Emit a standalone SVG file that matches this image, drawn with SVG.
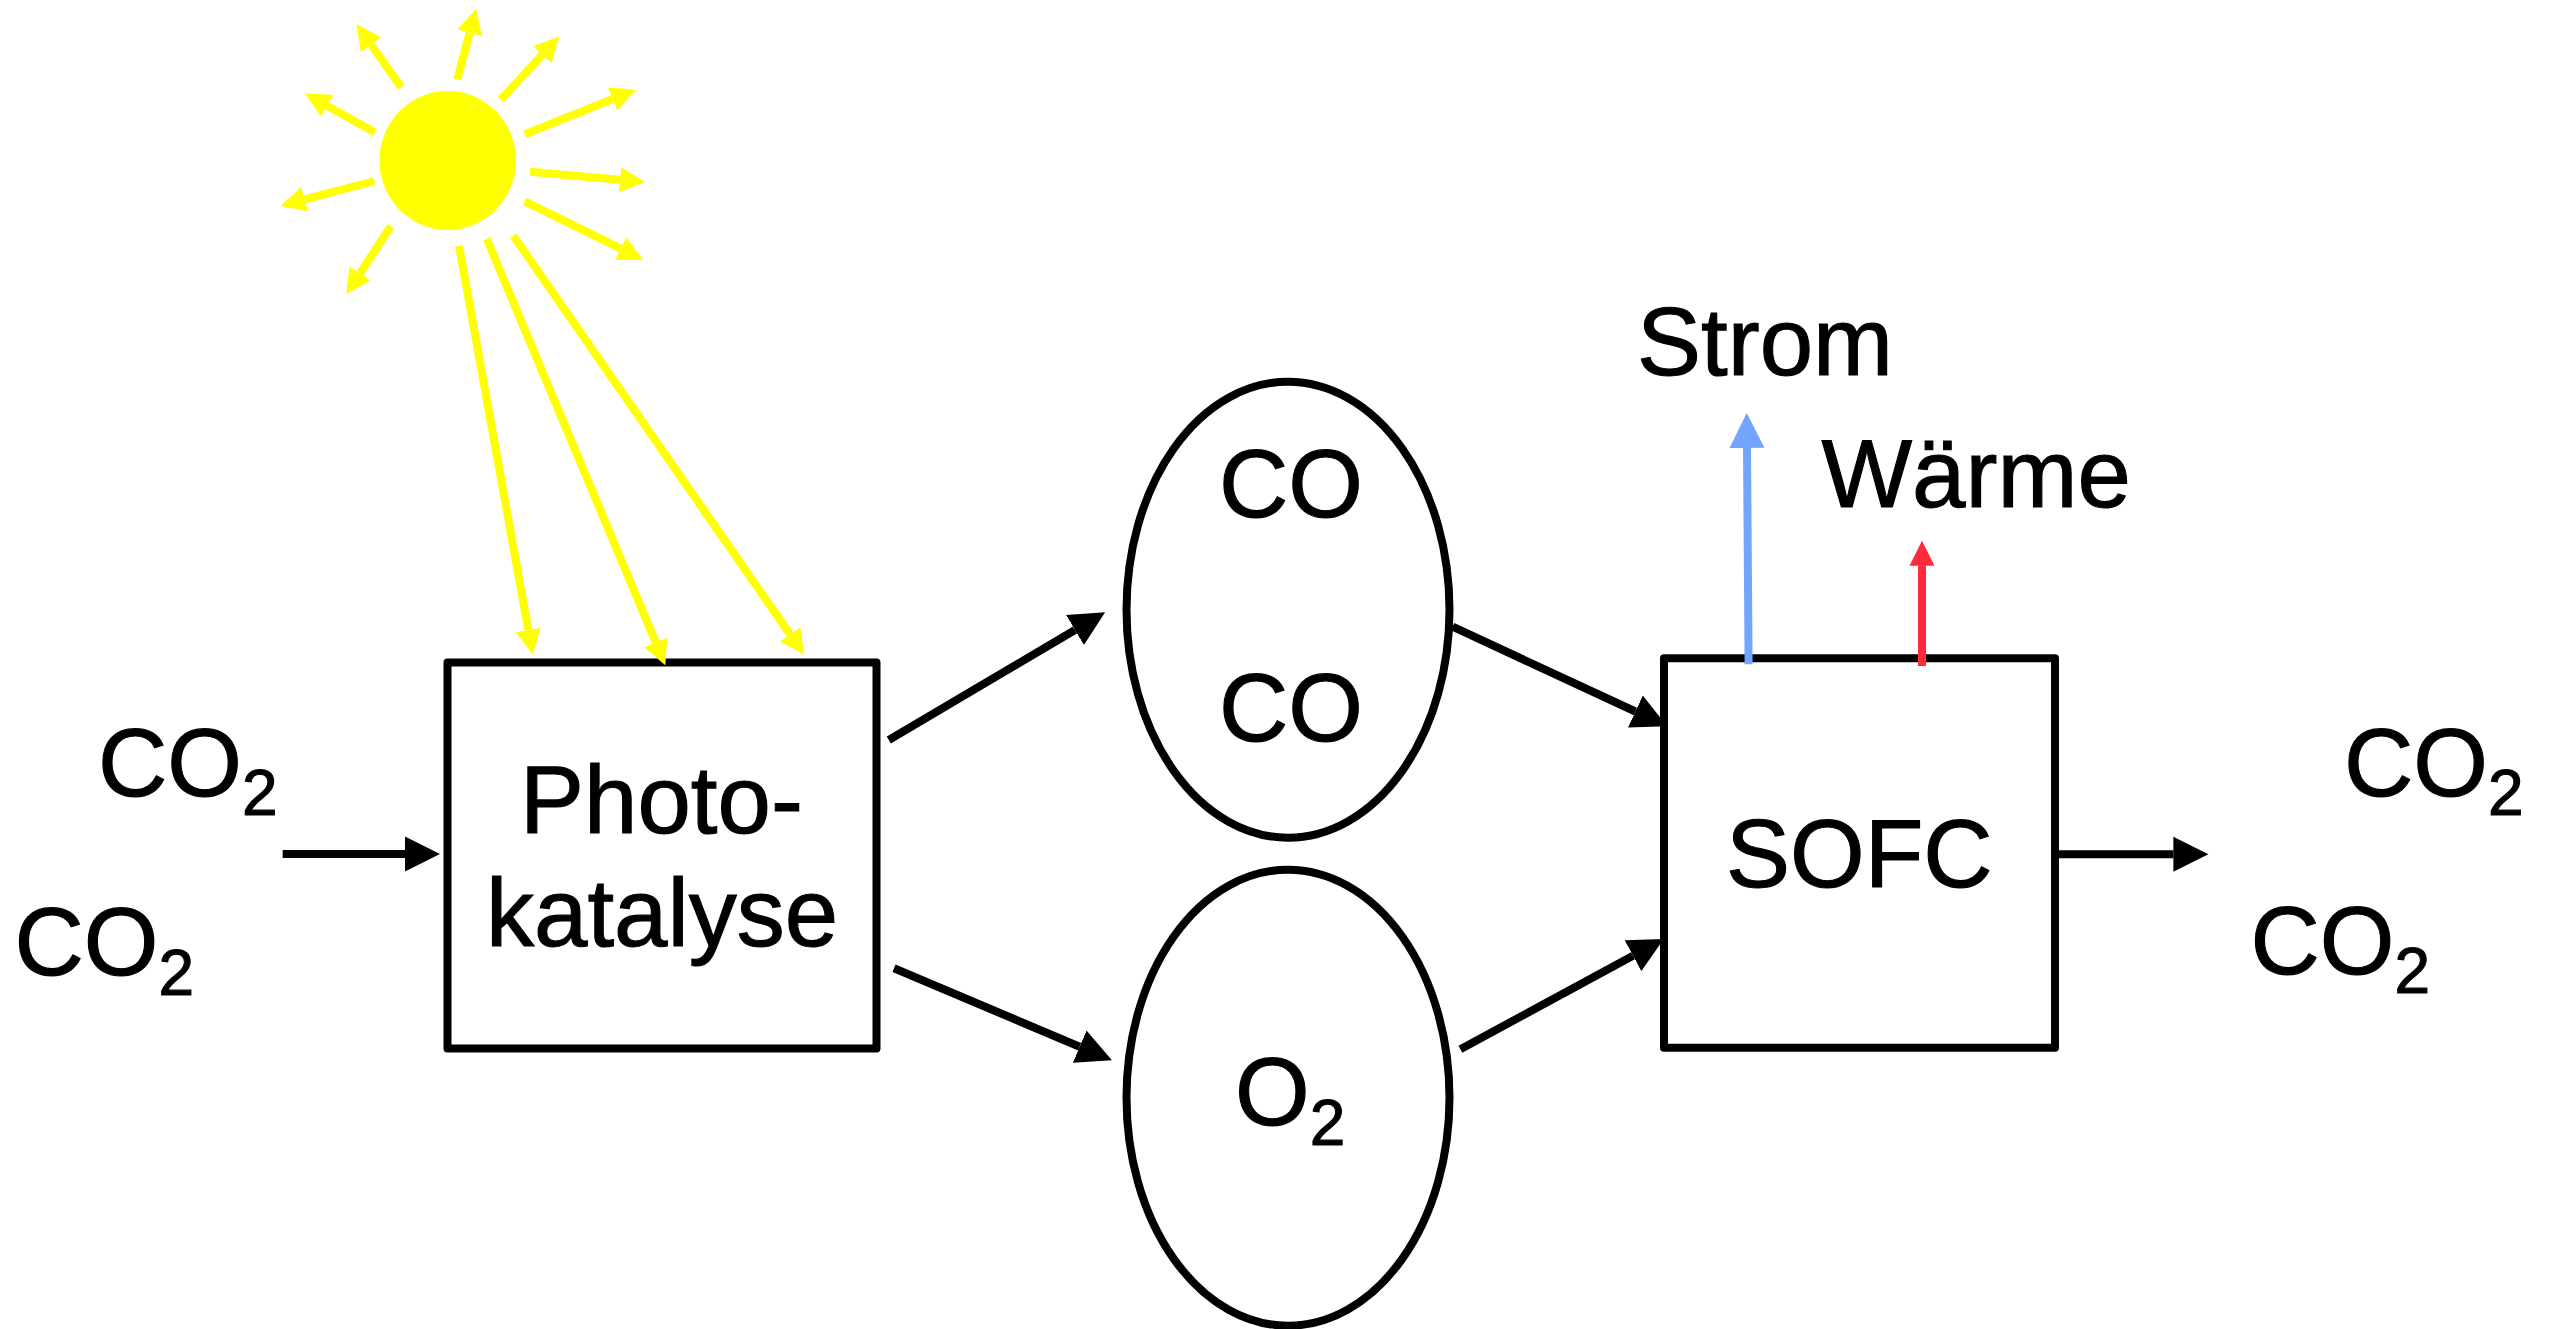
<svg xmlns="http://www.w3.org/2000/svg" width="2552" height="1329" viewBox="0 0 2552 1329">
<style>
text{font-family:"Liberation Sans",Arial,sans-serif;font-size:96px;fill:#000;stroke:#000;stroke-width:1.1}
tspan.sub{font-size:64px}
.box{fill:none;stroke:#000;stroke-width:8;stroke-linejoin:round}
.oval{fill:none;stroke:#000;stroke-width:8}
.k{stroke:#000;stroke-width:8;fill:none;marker-end:url(#headK)}
.y{stroke:#ff0;stroke-width:8;fill:none;marker-end:url(#headY)}
.b{stroke:#73a5ff;stroke-width:8;fill:none;marker-end:url(#headB)}
.r{stroke:#ff2a3a;stroke-width:8;fill:none;marker-end:url(#headR)}
</style>
<defs>
<marker id="headK" markerUnits="userSpaceOnUse" markerWidth="36" markerHeight="36" refX="0" refY="18" orient="auto"><path d="M0 .5L35 18L0 35.5z" fill="#000"/></marker>
<marker id="headB" markerUnits="userSpaceOnUse" markerWidth="36" markerHeight="36" refX="0" refY="18" orient="auto"><path d="M0 .5L35 18L0 35.5z" fill="#73a5ff"/></marker>
<marker id="headY" markerUnits="userSpaceOnUse" markerWidth="26" markerHeight="26" refX="0" refY="13" orient="auto"><path d="M0 .5L25 13L0 25.5z" fill="#ff0"/></marker>
<marker id="headR" markerUnits="userSpaceOnUse" markerWidth="26" markerHeight="26" refX="0" refY="13" orient="auto"><path d="M0 .5L25 13L0 25.5z" fill="#ff2a3a"/></marker>
</defs>
<rect width="2552" height="1329" fill="#fff"/>
<g id="sun"><ellipse cx="447.7" cy="160.5" rx="68.3" ry="69.5" fill="#ff0"/></g>
<g id="photokatalyse"><rect class="box" x="447.5" y="662.5" width="429" height="386"/>
<text x="520" y="833.2">Photo-</text><text x="486" y="945.5">katalyse</text></g>
<g id="co-ellipse"><ellipse class="oval" cx="1288" cy="609.7" rx="161.5" ry="228"/>
<text x="1219" y="517">CO</text><text x="1219" y="741">CO</text></g>
<g id="o2-ellipse"><ellipse class="oval" cx="1288" cy="1097.7" rx="161.5" ry="228"/>
<text x="1235" y="1125">O<tspan class="sub" dy="20">2</tspan></text></g>
<g id="sofc"><rect class="box" x="1664" y="658.3" width="391" height="389.4"/>
<text x="1726" y="887">SOFC</text></g>
<g id="co2-in-1"><text x="98" y="796">CO<tspan class="sub" dy="19">2</tspan></text></g>
<g id="co2-in-2"><text x="14.5" y="975">CO<tspan class="sub" dy="20">2</tspan></text></g>
<g id="co2-out-1"><text x="2344" y="795.5">CO<tspan class="sub" dy="19">2</tspan></text></g>
<g id="co2-out-2"><text x="2250.5" y="974">CO<tspan class="sub" dy="19">2</tspan></text></g>
<g id="strom"><text x="1637" y="375">Strom</text></g>
<g id="waerme"><text x="1821.5" y="507">Wärme</text></g>
<g id="connectors">
<line class="y" x1="401.3" y1="87.3" x2="371" y2="44.7"/>
<line class="y" x1="457.3" y1="79.3" x2="469.7" y2="32.7"/>
<line class="y" x1="500.7" y1="99.7" x2="542.3" y2="54.7"/>
<line class="y" x1="524.7" y1="134.3" x2="612.7" y2="99"/>
<line class="y" x1="530" y1="171.7" x2="620" y2="179.7"/>
<line class="y" x1="524.7" y1="201.3" x2="620.7" y2="248.7"/>
<line class="y" x1="390.7" y1="226.3" x2="360" y2="273.3"/>
<line class="y" x1="374.3" y1="181" x2="304.7" y2="199.3"/>
<line class="y" x1="374.7" y1="132.3" x2="327" y2="105.7"/>
<line class="y" x1="459" y1="245.7" x2="528.3" y2="630"/>
<line class="y" x1="486.7" y1="238.7" x2="655.7" y2="642.3"/>
<line class="y" x1="513.3" y1="235.7" x2="790" y2="634.3"/>
<line class="k" x1="282.7" y1="854" x2="405" y2="854"/>
<line class="k" x1="888.8" y1="740" x2="1075" y2="630"/>
<line class="k" x1="894" y1="968.3" x2="1079.7" y2="1046.7"/>
<line class="k" x1="1452.6" y1="626.7" x2="1635.4" y2="711.5"/>
<line class="k" x1="1460.4" y1="1049.3" x2="1633" y2="955.7"/>
<line class="k" x1="2052" y1="854.3" x2="2173.4" y2="854.3"/>
<line class="b" x1="1748.6" y1="664.3" x2="1747" y2="448"/>
<line class="r" x1="1922" y1="666" x2="1922" y2="565.7"/>
</g>
</svg>
